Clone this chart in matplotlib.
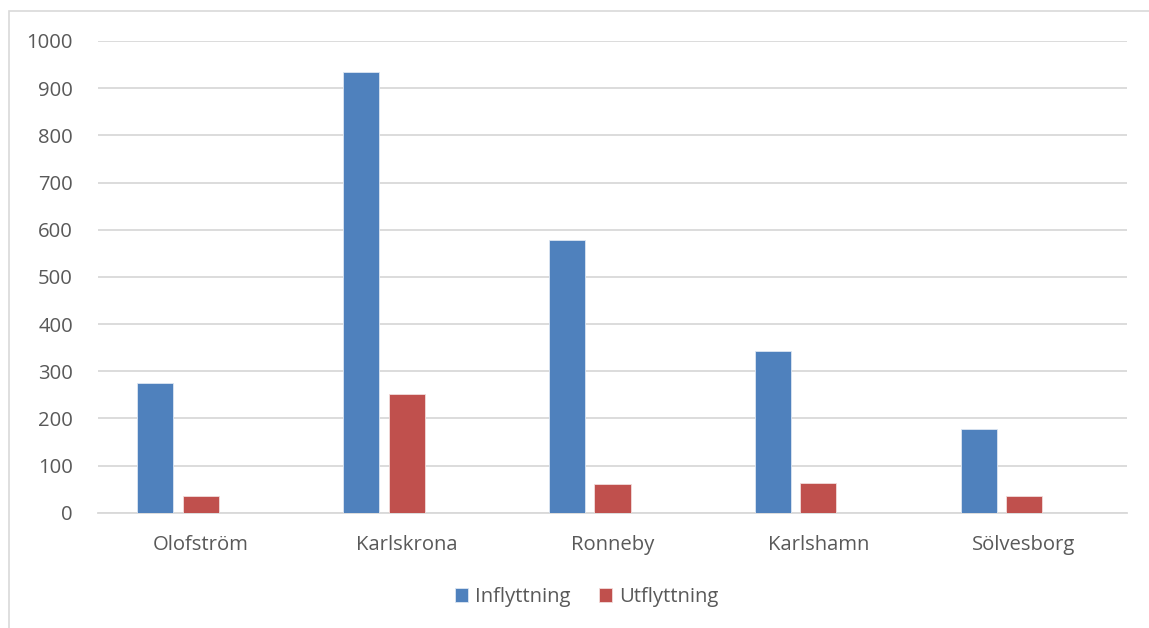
import matplotlib
matplotlib.use("Agg")
import matplotlib.pyplot as plt
from matplotlib.patches import Rectangle
import numpy as np

categories = ["Olofström", "Karlskrona", "Ronneby", "Karlshamn", "Sölvesborg"]
inflyttning = [275, 935, 579, 342, 178]
utflyttning = [35, 251, 60, 64, 36]
series_names = ["Inflyttning", "Utflyttning"]
yticks = [0, 100, 200, 300, 400, 500, 600, 700, 800, 900, 1000]

plt.rcParams['font.family'] = ['Open Sans', 'DejaVu Sans']
W, H = 1149, 628
fig = plt.figure(figsize=(W / 100, H / 100), dpi=100)
fig.patches.append(Rectangle((9 / W, -0.1), 1.2, 1 - 11 / H + 0.1, transform=fig.transFigure,
                             fill=False, edgecolor="#d9d9d9", linewidth=1.2, zorder=0))

ax = fig.add_axes([98 / W, 1 - 512.7 / H, (1127 - 98) / W, (512.7 - 41) / H])
x = np.arange(len(categories))
w = 0.175
step = 0.221
blue = "#4f81bd"
red = "#c0504d"
ax.bar(x - step, inflyttning, w, color=blue, edgecolor="#dce6f2", linewidth=0.6, label=series_names[0], zorder=3)
ax.bar(x, utflyttning, w, color=red, edgecolor="#f2dcdb", linewidth=0.6, label=series_names[1], zorder=3)

ax.set_xlim(-0.5, len(categories) - 0.5)
ax.set_ylim(0, 1000)
ax.set_yticks(yticks)
ax.set_xticks(x)
ax.set_xticklabels(categories)
ax.grid(axis="y", color="#d9d9d9", linewidth=1.3, zorder=0)
for s in ["top", "right", "left"]:
    ax.spines[s].set_visible(False)
ax.spines["bottom"].set_color("#d9d9d9")
ax.spines["bottom"].set_linewidth(1.3)
ax.tick_params(axis="both", length=0, labelsize=14.6, colors="#595959")
ax.tick_params(axis="y", pad=18)
ax.tick_params(axis="x", pad=16)

leg = fig.legend(loc="center", bbox_to_anchor=(587 / W, 1 - 597 / H), ncol=2, frameon=False,
                 fontsize=14.6, handlelength=0.65, handleheight=0.65, handletextpad=0.35,
                 columnspacing=1.4, labelcolor="#595959")
fig.savefig("out.png", dpi=100)
